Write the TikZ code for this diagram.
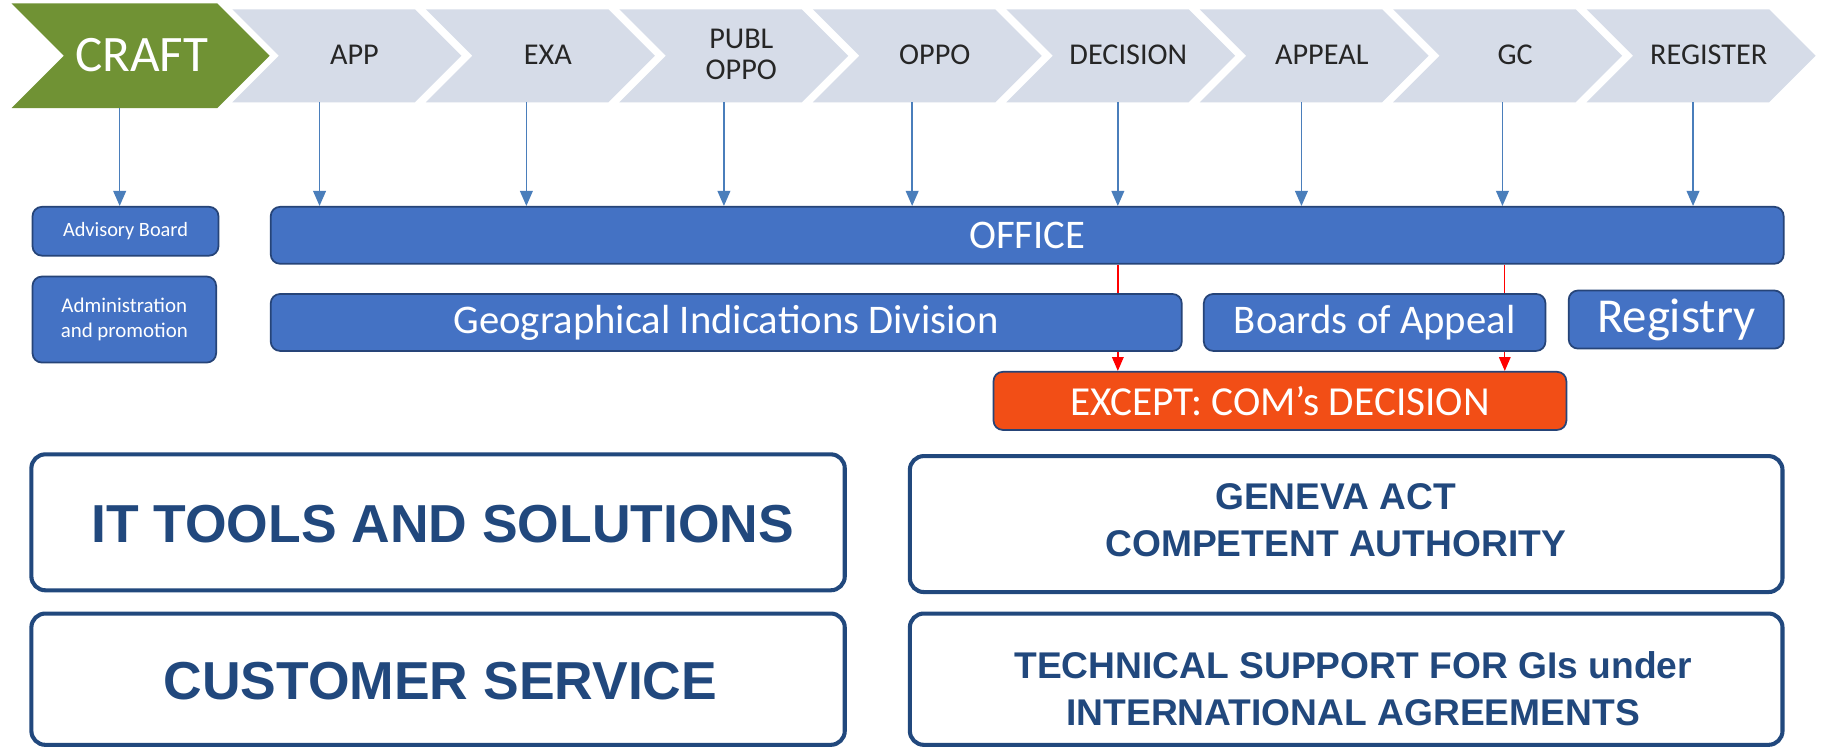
\documentclass[tikz,border=0pt]{standalone}
\usepackage{fontspec}
\setmainfont{Carlito}
\newfontfamily\arialbf{Liberation Sans Bold}
\usetikzlibrary{arrows.meta}
\definecolor{craftgreen}{RGB}{112,146,52}
\definecolor{chevgrey}{RGB}{214,220,232}
\definecolor{boxblue}{RGB}{68,114,196}
\definecolor{boxedge}{RGB}{38,68,120}
\definecolor{arrblue}{RGB}{74,126,187}
\definecolor{exceptred}{RGB}{242,78,22}
\definecolor{darkblue}{RGB}{33,72,125}
\tikzset{
  chevtext/.style={text=black!85, font=\fontsize{26}{27}\selectfont, align=center, inner sep=0pt},
  bluebox/.style={draw=boxedge, line width=1.5pt, fill=boxblue, rounded corners=8pt, text=white, align=center, inner sep=0pt},
  exceptbox/.style={draw=boxedge, line width=1.5pt, fill=exceptred, rounded corners=8pt, text=white, align=center, inner sep=0pt},
  outbox/.style={draw=darkblue, line width=3.5pt, fill=white, rounded corners=12pt, inner sep=0pt},
  outtext/.style={text=darkblue, align=center, inner sep=0pt},
  downarr/.style={draw=arrblue, line width=1.3pt, -{Triangle[length=13pt,width=11pt]}},
  redline/.style={draw=red, line width=1.2pt},
  redarr/.style={draw=red, line width=1.2pt, -{Triangle[length=12pt,width=10pt]}}
}
\begin{document}
\begin{tikzpicture}[x=1pt,y=-1pt]
\path[fill=white, use as bounding box] (0,0) rectangle (1568,644);
% chevrons
\fill[craftgreen] (10,3) -- (187,3) -- (232,48) -- (187,93) -- (10,93) -- (55,48) -- cycle;
\node[text=white, font=\fontsize{44}{46}\selectfont, inner sep=0pt] (craft) at (122,47) {CRAFT};
\foreach \i/\lab/\nm in {0/APP/app,1/EXA/exa,2/{PUBL\\OPPO}/publ,3/OPPO/oppo,4/DECISION/dec,5/APPEAL/appeal,6/GC/gc,7/REGISTER/reg}{
  \pgfmathsetmacro{\xo}{200+166.5*\i}
  \fill[chevgrey] (\xo,8) -- ({\xo+157},8) -- ({\xo+197},48) -- ({\xo+157},88) -- (\xo,88) -- ({\xo+40},48) -- cycle;
  \node[chevtext] (\nm) at ({\xo+105},47) {\lab};
}
% arrow starts
\coordinate (sCraft) at (103,93);
\coordinate (sApp) at (275,88);
\coordinate (sExa) at (453,88);
\coordinate (sPubl) at (623,88);
\coordinate (sOppo) at (785,88);
\coordinate (sDec) at (962,88);
\coordinate (sAppeal) at (1120,88);
\coordinate (sGc) at (1293,88);
\coordinate (sReg) at (1457,88);
% blue boxes
\node[bluebox, minimum width=160pt, minimum height=42pt, font=\fontsize{17.5}{19}\selectfont] (advisory) at (108,199) {Advisory Board};
\node[bluebox, minimum width=158pt, minimum height=74pt, font=\fontsize{18}{22}\selectfont] (admin) at (107,275) {Administration\\and promotion};
\node[bluebox, minimum width=1302pt, minimum height=49pt, font=\fontsize{35}{37}\selectfont] (office) at (884,202.5) {OFFICE};
\node[bluebox, minimum width=784pt, minimum height=49pt, font=\fontsize{35}{37}\selectfont] (gid) at (625,277.5) {Geographical Indications Division};
\node[bluebox, minimum width=294pt, minimum height=49pt, font=\fontsize{35}{37}\selectfont] (boa) at (1183,277.5) {Boards of Appeal};
\node[bluebox, minimum width=185pt, minimum height=50pt, font=\fontsize{42}{44}\selectfont] (registry) at (1442.5,275) {Registry};
\node[exceptbox, minimum width=493pt, minimum height=50pt, font=\fontsize{35.5}{37}\selectfont] (except) at (1101.5,345) {EXCEPT: COM’s DECISION};
% blue arrows
\draw[downarr] (sCraft) -- (sCraft |- advisory.north);
\foreach \s in {sApp,sExa,sPubl,sOppo,sDec,sAppeal,sGc,sReg}{
  \draw[downarr] (\s) -- (\s |- office.north);
}
% red arrows
\coordinate (rA) at (962,0);
\coordinate (rB) at (1295,0);
\draw[redline] (rA |- office.south) -- (rA |- gid.north);
\draw[redarr] (rA |- gid.south) -- (rA |- except.north);
\draw[redline] (rB |- office.south) -- (rB |- boa.north);
\draw[redarr] (rB |- boa.south) -- (rB |- except.north);
% bottom boxes
\node[outbox, minimum width=700pt, minimum height=117pt] (it) at (377,449.5) {};
\node[outtext, font=\arialbf\fontsize{46}{50}\selectfont, xshift=4pt, yshift=-1.5pt] (ittxt) at (it.center) {IT TOOLS AND SOLUTIONS};
\node[outbox, minimum width=700pt, minimum height=113pt] (cs) at (377,584.5) {};
\node[outtext, font=\arialbf\fontsize{46}{50}\selectfont, xshift=2pt, yshift=-2pt] (cstxt) at (cs.center) {CUSTOMER SERVICE};
\node[outbox, minimum width=751pt, minimum height=117pt] (geneva) at (1158.5,451) {};
\node[outtext, font=\arialbf\fontsize{32}{40}\selectfont, xshift=-9pt, yshift=3.5pt] (genevatxt) at (geneva.center) {GENEVA ACT\\COMPETENT AUTHORITY};
\node[outbox, minimum width=751pt, minimum height=113pt] (tech) at (1158.5,584.5) {};
\node[outtext, font=\arialbf\fontsize{32}{40}\selectfont, xshift=6pt, yshift=-8pt] (techtxt) at (tech.center) {TECHNICAL SUPPORT FOR GIs under\\INTERNATIONAL AGREEMENTS};
\end{tikzpicture}
\end{document}
